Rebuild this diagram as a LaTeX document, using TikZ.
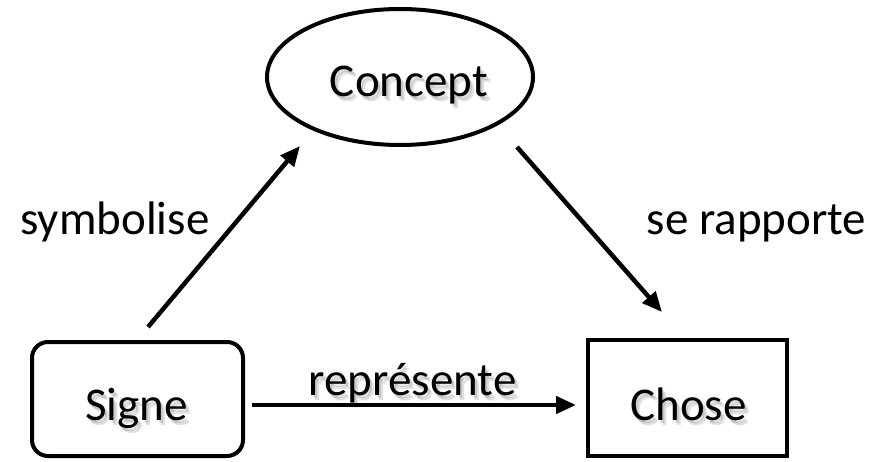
\documentclass[tikz,border=0pt]{standalone}
\usepackage{fontspec}
\setmainfont{Carlito}
\usetikzlibrary{arrows.meta,shapes.geometric,calc}

\tikzset{
  outline/.style={draw=black, line width=4pt},
  conceptbox/.style={outline, ellipse, minimum width=266pt, minimum height=136pt, inner sep=0pt},
  signebox/.style={outline, rectangle, rounded corners=16pt, minimum width=211pt, minimum height=114pt, inner sep=0pt},
  chosebox/.style={outline, rectangle, minimum width=199pt, minimum height=116pt, inner sep=0pt},
  word/.style={anchor=base, inner sep=0pt, font=\fontsize{47}{56}\selectfont},
  haze/.style={word, text=black, opacity=0.12},
  link/.style={line width=4.5pt, -{Triangle[length=20pt,width=17pt]}}
}

% Text with a soft grey drop shadow, offset down and to the right
\newcommand{\shadowword}[3]{%
  \foreach \dx/\dy in {2/3,4/5}{
    \node[haze] at ($(#1)+(\dx,\dy)$) {#3};
  }
  \node[word] (#2) at (#1) {#3};
}

\begin{document}
\begin{tikzpicture}[x=1pt, y=-1pt]
\useasboundingbox (0,0) rectangle (885,462);

% Frames
\node[conceptbox] (concept) at (400,77) {};
\node[signebox] (signe) at (137.5,399) {};
\node[chosebox] (chose) at (687.5,398) {};

% Texts inside the frames and on the lower link
\coordinate (tconcept) at (409,97);
\coordinate (tsigne) at (136.5,420);
\coordinate (tchose) at (688.5,420);
\coordinate (trep) at (412.5,395);
\shadowword{tconcept}{conceptlabel}{Concept}
\shadowword{tsigne}{signelabel}{Signe}
\shadowword{tchose}{choselabel}{Chose}
\shadowword{trep}{replabel}{représente}

% Side labels
\node[word] (symb) at (115,235) {symbolise};
\node[word] (rapp) at (756.5,235) {se rapporte};

% Link end points
\coordinate (s1) at (148,327);
\coordinate (s2) at (300,146);
\coordinate (r1) at (517,147);
\coordinate (r2) at (662,312);
\coordinate (p1) at (252,405);
\coordinate (p2) at (576,405);

\draw[link] (s1) -- (s2);
\draw[link] (r1) -- (r2);
\draw[link] (p1) -- (p2);
\end{tikzpicture}
\end{document}
